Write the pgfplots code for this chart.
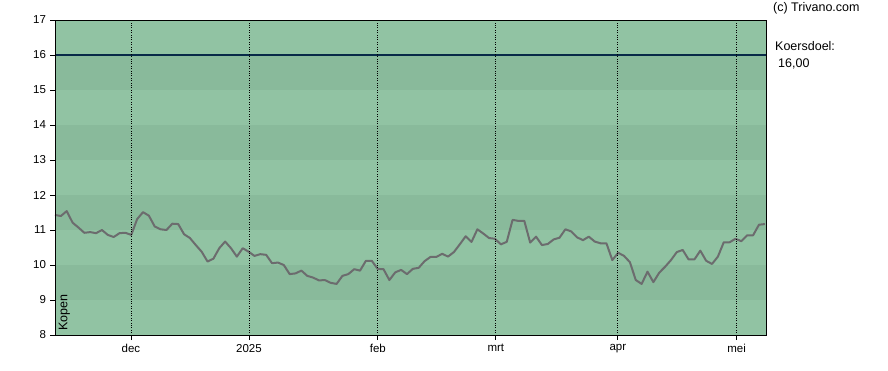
\documentclass[border=0pt]{standalone}
\usepackage{pgfplots}
\pgfplotsset{compat=1.18}
\usepackage{fontspec}
\setmainfont{Liberation Sans}
\definecolor{bandL}{RGB}{145,195,163}
\definecolor{bandD}{RGB}{137,186,155}
\definecolor{priceline}{RGB}{108,108,110}
\definecolor{target}{RGB}{8,42,72}
\pgfplotstableread{
x y
0 11.43
1 11.40
2 11.54
3 11.21
4 11.07
5 10.92
6 10.94
7 10.91
8 11.00
9 10.86
10 10.80
11 10.91
12 10.92
13 10.86
14 11.31
15 11.51
16 11.41
17 11.10
18 11.02
19 11.00
20 11.18
21 11.17
22 10.88
23 10.77
24 10.57
25 10.38
26 10.10
27 10.18
28 10.48
29 10.67
30 10.48
31 10.24
32 10.48
33 10.38
34 10.26
35 10.31
36 10.29
37 10.05
38 10.07
39 10.00
40 9.74
41 9.76
42 9.84
43 9.69
44 9.64
45 9.56
46 9.57
47 9.49
48 9.46
49 9.69
50 9.74
51 9.88
52 9.84
53 10.12
54 10.12
55 9.89
56 9.88
57 9.57
58 9.79
59 9.86
60 9.74
61 9.89
62 9.92
63 10.11
64 10.23
65 10.23
66 10.32
67 10.24
68 10.37
69 10.59
70 10.82
71 10.66
72 11.02
73 10.90
74 10.77
75 10.75
76 10.59
77 10.66
78 11.29
79 11.26
80 11.26
81 10.64
82 10.81
83 10.57
84 10.60
85 10.73
86 10.78
87 11.02
88 10.96
89 10.79
90 10.71
91 10.81
92 10.67
93 10.62
94 10.62
95 10.14
96 10.35
97 10.26
98 10.08
99 9.57
100 9.46
101 9.81
102 9.51
103 9.78
104 9.95
105 10.14
106 10.37
107 10.43
108 10.16
109 10.16
110 10.41
111 10.12
112 10.03
113 10.24
114 10.65
115 10.65
116 10.75
117 10.68
118 10.85
119 10.85
120 11.15
121 11.17
}\price
\begin{document}
\begin{tikzpicture}
\path[use as bounding box] (-55pt,-35pt) rectangle (833pt,335pt);
\begin{axis}[
  at={(0pt,0pt)}, anchor=south west,
  scale only axis, width=711pt, height=315pt,
  xmin=0, xmax=121.2, ymin=8, ymax=17,
  ytick={8,...,17},
  xtick={12.95,33.06,55.04,75.15,95.94,116.2},
  xticklabels={dec,2025,feb,mrt,apr,mei},
  tick align=outside, tick pos=left,
  major tick length=5pt,
  axis background/.style={fill=bandL},
  axis line style={black, line width=0.9pt},
  tick style={black, line width=0.8pt},
  xmajorgrids, grid style={black, dotted, line width=0.8pt},
  axis on top,
  font=\fontsize{12}{14}\selectfont,
  ticklabel style={font=\fontsize{11.5}{14}\selectfont},
  /pgf/number format/assume math mode=true,
  yticklabel style={xshift=-0.5pt},
  xticklabel style={yshift=-1pt},
]
\pgfplotsinvokeforeach{9,11,13,15}{
  \addplot[fill=bandD, draw=none] coordinates {(0,#1) (121.2,#1) (121.2,#1+1) (0,#1+1)} -- cycle;
}
\addplot[target, line width=2pt] coordinates {(0,16) (121.2,16)};
\addplot[priceline, line width=2pt, line join=round] table[x=x,y=y] {\price};
\node[rotate=90, anchor=base west, inner sep=0pt, font=\fontsize{12.5}{14}\selectfont] at ([xshift=12.5pt,yshift=4pt]rel axis cs:0,0) {Kopen};
\end{axis}
\node[anchor=west, inner sep=0pt, font=\fontsize{12.5}{14}\selectfont] at (718pt,327pt) {(c) Trivano.com};
\node[anchor=west, inner sep=0pt, font=\fontsize{12.5}{14}\selectfont] at (720pt,289pt) {Koersdoel:};
\node[anchor=west, inner sep=0pt, font=\fontsize{12.5}{14}\selectfont] at (723pt,271pt) {16,00};
\end{tikzpicture}
\end{document}
